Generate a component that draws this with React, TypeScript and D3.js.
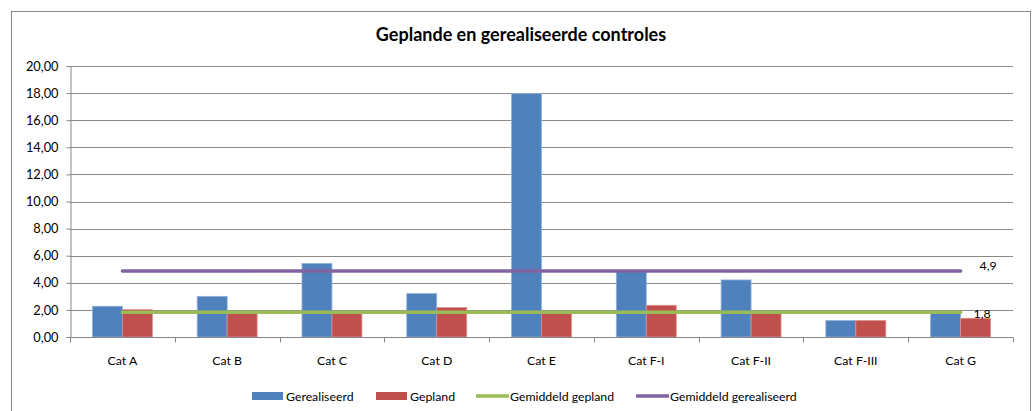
import * as React from "react";
import * as d3 from "d3";

// categorieën en waarden
const categories = ["Cat A", "Cat B", "Cat C", "Cat D", "Cat E", "Cat F-I", "Cat F-II", "Cat F-III", "Cat G"];
const gerealiseerd = [2.27, 3.0, 5.42, 3.2, 17.96, 4.85, 4.21, 1.21, 1.85];
const gepland = [2.02, 1.85, 1.8, 2.17, 1.8, 2.34, 1.8, 1.21, 1.38];
const gemiddeldGepland = 1.83;
const gemiddeldGerealiseerd = 4.88;
const yTicks = [0, 2, 4, 6, 8, 10, 12, 14, 16, 18, 20];
const legendItems = [
    { label: "Gerealiseerd", kind: "rect", color: "#4F81BD" },
    { label: "Gepland", kind: "rect", color: "#C0504D" },
    { label: "Gemiddeld gepland", kind: "line", color: "#9BBB59" },
    { label: "Gemiddeld gerealiseerd", kind: "line", color: "#8064A2" },
];

const W = 1034, H = 411;
const FONT = "Lato, 'Open Sans', sans-serif";
const FS = 12.3;

export default function App() {
    const node = React.useRef<SVGSVGElement>(null);

    React.useEffect(() => {
        const svg = d3.select(node.current);
        svg.selectAll("*").remove();

        const margin = { top: 66, right: 21, bottom: 74, left: 70 };
        const width = W - margin.left - margin.right;
        const height = H - margin.top - margin.bottom;

        // chart border
        svg.append("rect")
            .attr("x", 11.5).attr("y", 11.5)
            .attr("width", 1019).attr("height", 420)
            .attr("fill", "#fff").attr("stroke", "#868686");

        svg.append("text")
            .attr("x", 521).attr("y", 41)
            .attr("text-anchor", "middle")
            .attr("font-family", FONT).attr("font-weight", "bold").attr("font-size", 18)
            .attr("fill", "#000")
            .text("Geplande en gerealiseerde controles");

        const g = svg.append("g").attr("transform", "translate(" + margin.left + "," + margin.top + ")");

        const x = d3.scaleBand().domain(categories).range([0, width]).paddingInner(0).paddingOuter(0);
        const y = d3.scaleLinear().domain([0, 20]).range([height, 0]);
        const band = x.bandwidth();
        const barW = band * 0.286;
        const groupOff = (band - barW * 2) / 2;

        // gridlines
        g.append("g").selectAll("line").data(yTicks.slice(1)).join("line")
            .attr("x1", 0).attr("x2", width)
            .attr("y1", d => Math.round(y(d)) + 0.5).attr("y2", d => Math.round(y(d)) + 0.5)
            .attr("stroke", "#8a8a8a").attr("stroke-width", 1);

        // y axis
        const yAxis = g.append("g").attr("transform", "translate(0.5,0)")
            .call(d3.axisLeft(y).tickValues(yTicks).tickSize(4).tickPadding(8)
                .tickFormat(d => d3.format(".2f")(+d).replace(".", ",")));
        yAxis.select(".domain").attr("stroke", "#868686");
        yAxis.selectAll(".tick line").attr("stroke", "#868686");
        yAxis.selectAll("text").attr("font-family", FONT).attr("font-size", 12.8).attr("fill", "#000");

        // bars
        const groups = g.append("g").selectAll("g").data(categories).join("g")
            .attr("transform", d => "translate(" + x(d) + ",0)");
        groups.append("rect")
            .attr("x", groupOff).attr("width", barW)
            .attr("y", (d, i) => y(gerealiseerd[i]))
            .attr("height", (d, i) => height - y(gerealiseerd[i]))
            .attr("fill", "#4F81BD").attr("stroke", "#8FB1DA").attr("stroke-width", 0.8);
        groups.append("rect")
            .attr("x", groupOff + barW).attr("width", barW)
            .attr("y", (d, i) => y(gepland[i]))
            .attr("height", (d, i) => height - y(gepland[i]))
            .attr("fill", "#C0504D").attr("stroke", "#DB8F8D").attr("stroke-width", 0.8);

        // x axis
        const xAxis = g.append("g").attr("transform", "translate(0," + (height + 0.5) + ")");
        xAxis.append("line").attr("x1", 0).attr("x2", width).attr("stroke", "#868686");
        xAxis.selectAll("line.tk").data(d3.range(categories.length + 1)).join("line")
            .attr("class", "tk")
            .attr("x1", i => Math.round(i * band) + 0.5).attr("x2", i => Math.round(i * band) + 0.5)
            .attr("y1", 0).attr("y2", 5).attr("stroke", "#868686");
        xAxis.selectAll("text").data(categories).join("text")
            .attr("x", d => x(d)! + band / 2).attr("y", 27)
            .attr("text-anchor", "middle")
            .attr("font-family", FONT).attr("font-size", FS).attr("fill", "#000")
            .text(d => d);

        // average lines
        const cx = (c: string) => x(c)! + band / 2;
        const avgLine = d3.line<string>().x(cx);
        const last = categories[categories.length - 1];
        g.append("path")
            .datum(categories)
            .attr("d", avgLine.y(() => y(gemiddeldGerealiseerd)))
            .attr("fill", "none").attr("stroke", "#8064A2").attr("stroke-width", 3.5).attr("stroke-linecap", "round");
        g.append("path")
            .datum(categories)
            .attr("d", avgLine.y(() => y(gemiddeldGepland)))
            .attr("fill", "none").attr("stroke", "#9BBB59").attr("stroke-width", 3.5).attr("stroke-linecap", "round");

        const fmt = (v: number) => d3.format(".1f")(v).replace(".", ",");
        g.append("text")
            .attr("x", cx(last) + 19).attr("y", y(gemiddeldGerealiseerd) - 0.5)
            .attr("font-family", FONT).attr("font-size", FS).attr("fill", "#000")
            .text(fmt(gemiddeldGerealiseerd));
        g.append("text")
            .attr("x", cx(last) + 13).attr("y", y(gemiddeldGepland) + 6)
            .attr("font-family", FONT).attr("font-size", FS).attr("fill", "#000")
            .text(fmt(gemiddeldGepland));

        // legend
        const legendX = [252, 376, 476, 636];
        const legend = svg.append("g").attr("transform", "translate(0,396)");
        legendItems.forEach((it, i) => {
            const lx = legendX[i];
            if (it.kind === "rect") {
                legend.append("rect").attr("x", lx).attr("y", -4).attr("width", 31).attr("height", 8).attr("fill", it.color);
            } else {
                legend.append("line").attr("x1", lx).attr("x2", lx + 33).attr("y1", 0).attr("y2", 0)
                    .attr("stroke", it.color).attr("stroke-width", 3.5);
            }
            legend.append("text")
                .attr("x", lx + 34).attr("y", 4.5)
                .attr("font-family", FONT).attr("font-size", FS).attr("fill", "#000")
                .text(it.label);
        });
    }, []);

    return <svg ref={node} width={W} height={H}
        style={{ position: "absolute", left: 0, top: 0, display: "block", background: "#fff" }} />;
}
